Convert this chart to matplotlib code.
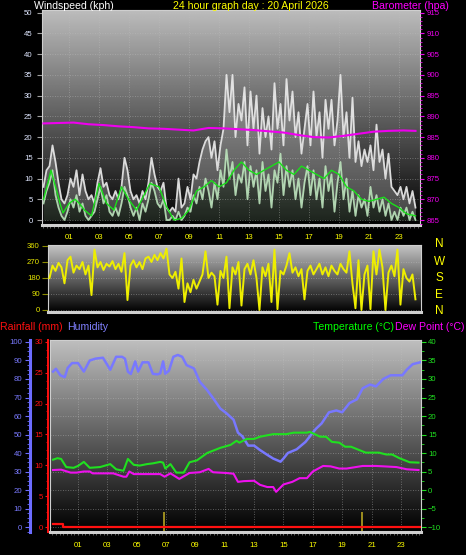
import matplotlib
matplotlib.use('Agg')
import matplotlib.pyplot as plt
import numpy as np
from matplotlib.ticker import MultipleLocator

plt.rcParams['font.family'] = ['Liberation Sans', 'DejaVu Sans']

# ---- wind (kph), sampled every 0.2 h from -0.7 h ----
hours = np.round(np.arange(-0.7, 24.2, 0.2), 2)
gust = [8, 12, 13, 18, 14, 9, 5, 4, 6, 10,
        8, 12, 6, 11, 7, 5, 6, 4, 9, 12.5,
        8, 9, 6, 5, 7, 5, 8, 15, 12, 7,
        5, 6, 4, 7, 5, 9, 15, 11, 8, 7,
        9, 3, 2, 3, 2, 10, 3, 4, 8, 5,
        11, 10, 14, 17, 19, 20, 15, 19, 12, 18,
        22, 35, 26, 35, 20, 28, 24, 32, 18, 31,
        22, 30, 16, 27, 20, 25, 17, 33, 22, 28,
        18, 34, 24, 31, 20, 26, 16, 22, 28, 18,
        31, 20, 26, 15, 29, 22, 29, 18, 24, 35,
        20, 26, 15, 29.5, 14, 19, 13, 17, 14, 18,
        12, 23, 14, 17, 10, 16, 8, 7, 6, 8,
        5, 8, 4, 7, 3]
wind = [4, 7, 9, 12, 6, 3, 1, 0, 2, 5,
        3, 6, 2, 4, 1, 0, 1, 2, 5, 8,
        4, 6, 2, 1, 3, 1, 4, 8, 6, 3,
        1, 3, 0, 4, 2, 5, 9, 7, 4, 3,
        5, 0, 0, 1, 0, 2, 0, 1, 3, 2,
        6, 4, 8, 5, 10, 7, 3, 9, 5, 12,
        8, 17, 10, 14, 6, 11, 9, 14, 5, 13,
        8, 12, 4, 14, 7, 11, 3, 12, 9, 16,
        6, 13, 8, 12, 5, 10, 3, 9, 13, 6,
        12, 5, 10, 3, 13, 7, 11, 2, 9, 14,
        5, 10, 2, 7, 1, 6, 3, 5, 1, 8,
        3, 6, 2, 5, 1, 4, 0, 2, 0, 3,
        1, 3, 0, 2, 0]
avg_h = [-0.7, -0.4, -0.2, 0.1, 0.4, 0.6, 1.0, 1.4, 1.7, 2.0, 2.5, 3.0, 3.5, 4.0,
         4.5, 5.0, 5.5, 6.0, 6.4, 7.0, 7.5, 8.0, 8.5, 9.0, 9.5, 10.0, 10.5, 11.0,
         11.5, 12.0, 12.5, 13.0, 13.5, 14.0, 14.5, 15.0, 15.5, 16.0, 16.5, 17.0,
         17.5, 18.0, 18.5, 19.0, 19.5, 20.0, 20.5, 21.0, 21.5, 22.0, 22.5, 23.0,
         23.5, 24.1]
avg_v = [5, 9, 12, 8, 4, 1.7, 4, 5, 4, 2.5, 1, 8.8, 4, 2.4,
         8, 4.8, 2.4, 6, 8.8, 8, 3.2, 0, 0.4, 2.4, 7, 8, 9.5, 8,
         9, 12, 14, 12, 11, 12, 13, 14, 12, 11, 13, 12,
         11, 10, 12, 11, 8, 7, 5, 4.5, 5, 5.5, 4, 3,
         1.5, 1]

# ---- barometer (hpa) ----
baro_h = [-0.7, 0.3, 1.3, 2.3, 3.3, 4.3, 5.3, 6.3, 7.3, 8.3, 9.3, 10.3, 11.3,
          12.3, 13.3, 14.3, 15.3, 16.3, 17.3, 18.3, 19.3, 20.3, 21.3, 22.3, 23.3, 24.1]
baro = [888.3, 888.4, 888.5, 888.1, 887.9, 887.6, 887.4, 887.1, 887.0, 886.8, 886.6,
        887.2, 887.1, 886.9, 886.7, 886.4, 886.1, 885.5, 885.0, 884.9, 885.3, 885.8,
        886.3, 886.5, 886.6, 886.5]

# ---- wind direction (deg), every 0.2 h from -0.3 h ----
dir_h = np.round(np.arange(-0.3, 24.2, 0.2), 2)
direction = [180, 250, 220, 265, 240, 150, 280, 300, 210, 250,
             230, 270, 200, 250, 84, 340, 240, 270, 225, 260,
             245, 275, 230, 260, 215, 320, 56, 250, 280, 240,
             270, 230, 290, 300, 270, 310, 280, 320, 290, 345,
             200, 180, 215, 120, 290, 45, 150, 100, 170, 120,
             160, 200, 330, 180, 210, 190, 30, 220, 180, 300,
             10, 240, 200, 270, 25, 230, 260, 200, 280, 180,
             0, 240, 190, 260, 45, 340, 5, 220, 200, 250,
             320, 210, 240, 190, 230, 60, 220, 250, 200, 230,
             260, 200, 240, 190, 250, 220, 200, 260, 230, 210,
             330, 150, 10, 280, 0, 200, 250, 5, 330, 200,
             340, 240, 0, 210, 250, 190, 340, 30, 230, 180,
             160, 200, 60]
compass = ['N', 'W', 'S', 'E', 'N']

# ---- humidity (%) ----
hum_h = [-0.7, -0.5, -0.2, 0.1, 0.3, 0.6, 1.0, 1.4, 1.8, 2.2,
         2.7, 3.2, 3.6, 4.0, 4.2, 4.4, 4.6, 4.9, 5.1, 5.4,
         5.8, 6.1, 6.4, 6.6, 6.8, 6.95, 7.2, 7.5, 7.8, 8.1,
         8.4, 8.9, 9.3, 9.8, 10.2, 10.7, 11.1, 11.6, 11.9, 12.2,
         12.6, 13.0, 13.4, 13.9, 14.3, 14.6, 14.8, 15.0, 15.3, 15.9,
         16.5, 16.9, 17.2, 17.6, 18.1, 18.6, 19.0, 19.5, 20.0, 20.4,
         20.9, 21.3, 21.8, 22.3, 22.7, 23.1, 23.4, 23.8, 24.3]
hum = [84, 85.5, 82, 81, 86, 88.6, 88.6, 84, 90, 91,
       91.5, 85, 92, 92, 91, 84, 82.7, 89.5, 84, 89,
       89, 82.8, 82.5, 83, 89.5, 82.8, 84.5, 92, 93, 92,
       87.5, 85.7, 78.5, 74, 69.7, 64, 61.6, 58, 51, 49,
       44, 44, 41.6, 39, 37, 36, 35.3, 37, 40, 42,
       46, 50, 53, 56, 62, 63, 62, 67, 69, 75,
       77, 76, 80, 82, 82, 82, 85, 88, 89]

# ---- temperature and dew point (C) ----
temp_h = [-0.7, -0.4, -0.15, 0.2, 0.7, 1.0, 1.4, 1.8, 2.5, 3.2,
          3.6, 4.1, 4.4, 4.8, 5.2, 5.7, 6.1, 6.6, 6.8, 6.95,
          7.3, 7.7, 8.2, 8.6, 9.1, 9.8, 10.7, 11.4, 11.8, 12.0,
          12.5, 13.0, 13.4, 14.3, 15.2, 15.7, 16.6, 16.8, 17.5, 17.9,
          18.3, 18.8, 19.2, 19.6, 20.6, 21.5, 22.0, 22.4, 22.9, 23.6, 24.2]
temp = [8.2, 8.6, 8.4, 6.2, 6.0, 6.5, 7.6, 6.0, 6.2, 7.0,
        5.6, 5.2, 8.4, 6.8, 6.6, 7.0, 7.2, 7.6, 7.4, 5.8,
        7.0, 4.7, 4.7, 7.5, 8.0, 10.0, 11.4, 12.2, 13.3, 12.8,
        13.8, 13.8, 14.4, 15.1, 15.1, 15.5, 15.5, 15.7, 14.4, 14.4,
        13.0, 12.8, 11.7, 11.7, 10.1, 10.1, 9.6, 9.6, 8.6, 7.5, 7.4]
dew_h = [-0.7, -0.15, 0.5, 0.9, 1.4, 1.8, 2.0, 3.4, 4.1, 4.3,
         4.5, 4.8, 6.6, 6.9, 7.3, 7.9, 8.6, 9.3, 9.9, 10.2,
         11.1, 11.6, 11.9, 12.3, 13.0, 13.4, 13.9, 14.3, 14.5, 15.0,
         15.6, 16.1, 16.6, 17.0, 17.7, 18.2, 18.8, 19.3, 20.4, 21.3,
         21.8, 22.7, 23.4, 24.2]
dew = [5.4, 5.5, 4.7, 4.7, 5.0, 5.0, 4.5, 4.5, 3.6, 3.6,
       5.0, 4.3, 4.3, 3.6, 4.5, 3.0, 4.6, 4.8, 5.7, 4.8,
       4.6, 4.4, 2.2, 2.4, 2.5, 1.4, 0.8, 0.8, -0.5, 1.5,
       2.2, 3.2, 3.2, 5.0, 6.5, 6.4, 5.8, 5.8, 6.5, 6.5,
       6.4, 6.2, 5.6, 5.4]

# ---- rain (mm) ----
rain_h = [-0.7, 0.0, 24.3]
rain = [0.45, 0, 0]
bar_h = [6.85, 20.35]
bar_top = [2.5, 2.5]

hour_ticks = list(range(1, 24, 2))
hour_labels = ['%02d' % h for h in hour_ticks]

W, H = 466, 555
fig = plt.figure(figsize=(W / 100, H / 100), dpi=100, facecolor='black')


def box(l, t, r, b):
    return [l / W, 1 - b / H, (r - l) / W, (b - t) / H]


def shade(ax, top):
    g = np.linspace(0.0, top, 256).reshape(-1, 1)
    ax.imshow(g, cmap='gray', vmin=0, vmax=1, origin='lower', extent=(0, 1, 0, 1),
              transform=ax.transAxes, aspect='auto', zorder=0, interpolation='bilinear')


def grid(ax, axis='both'):
    ax.set_axisbelow(True)
    ax.grid(axis=axis, color='#c0c0c0', ls=(0, (1, 2)), lw=0.6, alpha=0.55)


def frame(ax, col='#cfcfcf'):
    for s in ax.spines.values():
        s.set_color(col)
        s.set_linewidth(0.8)
    ax.spines['bottom'].set_linewidth(2.2)


tick_fs = 5.6

# ===== wind speed / barometer =====
ax1 = fig.add_axes(box(42, 10, 420, 225))
shade(ax1, 0.74)
ax1.fill_between(hours, wind, gust, color='#d8d8d8', alpha=0.3, lw=0, zorder=2)
ax1.plot(hours, gust, color='#ececec', lw=1.3, alpha=0.9, zorder=3)
ax1.fill_between(hours, 0, wind, color='#b8e8b8', alpha=0.15, lw=0, zorder=3)
ax1.plot(hours, wind, color='#c4eec4', lw=1.3, alpha=0.85, zorder=4)
ax1.plot(avg_h, avg_v, color='#19e019', lw=1.0, zorder=5)
ax1.set_xlim(-0.8, 24.4)
ax1.set_ylim(-1.2, 50.65)
ax1.set_xticks(hour_ticks)
ax1.set_xticklabels(hour_labels)
ax1.xaxis.set_minor_locator(MultipleLocator(0.25))
ax1.tick_params(axis='x', which='both', colors='#707070', labelcolor='#ffff00',
                length=2, labelsize=tick_fs, pad=4.5)
ax1.set_yticks(range(0, 51, 5))
ax1.tick_params(axis='y', colors='#a0a0a0', labelcolor='#dfe6ff', length=3.6,
                labelsize=tick_fs, pad=3.2)
grid(ax1)
frame(ax1)

ax1b = ax1.twinx()
ax1b.plot(baro_h, baro, color='#ee00ee', lw=1.5, zorder=6)
ax1b.set_ylim(863.8, 915.65)
ax1b.set_yticks(range(865, 916, 5))
ax1b.yaxis.set_minor_locator(MultipleLocator(1))
ax1b.tick_params(axis='y', which='major', colors='#ee00ee', length=3, labelsize=tick_fs, pad=1.5)
ax1b.tick_params(axis='y', which='minor', colors='#ee00ee', length=1.5)
for s in ax1b.spines.values():
    s.set_visible(False)

# ===== wind direction =====
ax2 = fig.add_axes(box(48, 245, 421, 312))
shade(ax2, 0.78)
ax2.plot(dir_h, direction, color='#eeee00', lw=1.4, zorder=3)
ax2.set_xlim(-0.4, 24.47)
ax2.set_ylim(-11.25, 365.6)
ax2.set_xticks([])
ax2.set_yticks([0, 90, 180, 270, 360])
ax2.tick_params(axis='y', colors='#8a8a00', labelcolor='#e6e600', length=4.3,
                labelsize=tick_fs, pad=1.5)
grid(ax2, 'y')
frame(ax2)
for lab, yy in zip(compass, [244, 261.7, 278.3, 295, 310.7]):
    fig.text(439.3 / W, 1 - yy / H, lab, color='#ffff00', fontsize=8.5,
             ha='center', va='center')

# ===== humidity / rain / temperature =====
ax3 = fig.add_axes(box(50, 340, 421, 532))
shade(ax3, 0.75)
ax3.plot(hum_h, hum, color='#7878ff', lw=1.8, zorder=3)
ax3.set_xlim(-0.906, 24.37)
ax3.set_ylim(-2.7, 101.08)
ax3.set_xticks(hour_ticks)
ax3.set_xticklabels(hour_labels)
ax3.xaxis.set_minor_locator(MultipleLocator(0.25))
ax3.tick_params(axis='x', which='both', colors='#707070', labelcolor='#ffff00',
                length=2, labelsize=tick_fs, pad=5)
ax3.set_yticks(range(0, 101, 10))
ax3.yaxis.set_minor_locator(MultipleLocator(2.5))
ax3.tick_params(axis='y', which='major', colors='#6c6cff', labelcolor='#7a7aff',
                length=3.6, labelsize=tick_fs, pad=2)
ax3.tick_params(axis='y', which='minor', colors='#6c6cff', length=2.2)
grid(ax3)
for k, s in ax3.spines.items():
    s.set_visible(k == 'left')
ax3.spines['left'].set_position(('outward', 14.4))
ax3.spines['left'].set_color('#6c6cff')
ax3.spines['left'].set_linewidth(2.2)

ax3r = ax3.twinx()
ax3r.plot(rain_h, rain, color='#ff1010', lw=1.6, drawstyle='steps-post', zorder=4)
ax3r.vlines(bar_h, -0.81, bar_top, color='#a89820', lw=1.3, zorder=3)
ax3r.set_ylim(-0.81, 30.32)
ax3r.yaxis.tick_left()
ax3r.set_yticks(range(0, 31, 5))
ax3r.yaxis.set_minor_locator(MultipleLocator(1.25))
ax3r.tick_params(axis='y', which='major', colors='#ff1010', length=2.2,
                 labelsize=tick_fs, pad=1.5)
ax3r.tick_params(axis='y', which='minor', colors='#ff1010', length=1.5)
for k, s in ax3r.spines.items():
    s.set_visible(k == 'left')
ax3r.spines['left'].set_position(('outward', 1.4))
ax3r.spines['left'].set_color('#ff1010')
ax3r.spines['left'].set_linewidth(1.4)

ax3t = ax3.twinx()
ax3t.plot(temp_h, temp, color='#20e020', lw=1.5, zorder=5)
ax3t.plot(dew_h, dew, color='#ee10ee', lw=1.5, zorder=5)
ax3t.set_ylim(-11.35, 40.54)
ax3t.set_yticks(range(-10, 41, 5))
ax3t.yaxis.set_minor_locator(MultipleLocator(2.5))
ax3t.tick_params(axis='y', which='major', colors='#20e020', length=3.6,
                 labelsize=tick_fs, pad=1.5)
ax3t.tick_params(axis='y', which='minor', colors='#20e020', length=2)
frame(ax3t)

# ===== titles =====
fig.text(34.3 / W, 1 - 9.3 / H, 'Windspeed (kph)', color='white', fontsize=7.6, va='baseline')
fig.text(172.7 / W, 1 - 9.3 / H, '24 hour graph day : 20 April 2026', color='#ffff00',
         fontsize=7.6, va='baseline')
fig.text(371.7 / W, 1 - 9.3 / H, 'Barometer (hpa)', color='#ff00ff', fontsize=7.6, va='baseline')
fig.text(0.5 / W, 1 - 330.5 / H, 'Rainfall (mm)', color='#ff1010', fontsize=7.6, va='baseline')
fig.text(66.7 / W, 1 - 330.5 / H, 'Humidity', color='#8080ff', fontsize=7.6, va='baseline')
fig.text(313.3 / W, 1 - 330.5 / H, 'Temperature (°C)', color='#00ff00', fontsize=7.6,
         va='baseline')
fig.text(395 / W, 1 - 330.5 / H, 'Dew Point (°C)', color='#ff00ff', fontsize=7.6, va='baseline')

fig.savefig('out.png', dpi=100, facecolor='black')
